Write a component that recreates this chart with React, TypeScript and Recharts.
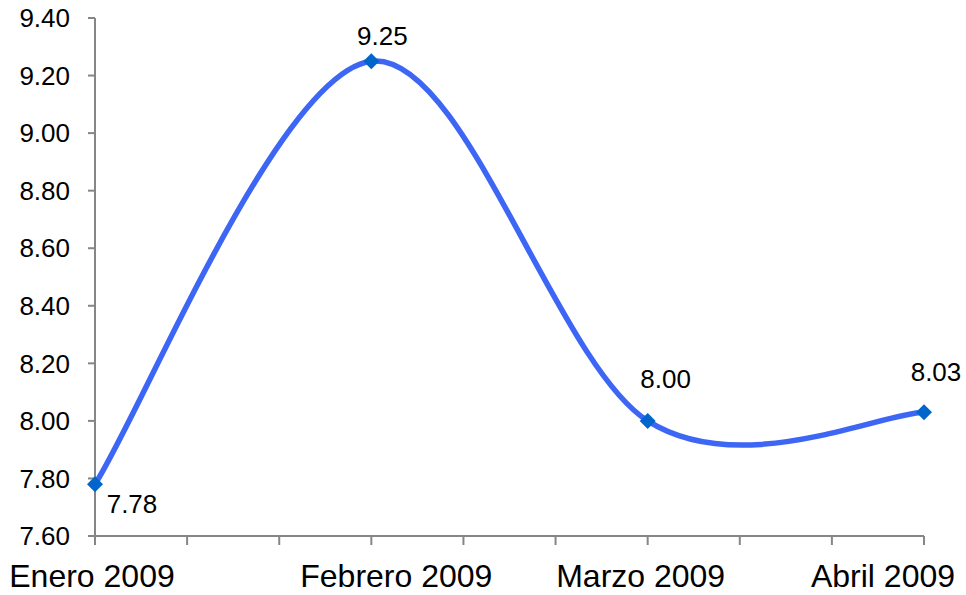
import React from 'react';
import { LineChart, Line, XAxis, YAxis, LabelList } from 'recharts';

const months = ['Enero 2009', 'Febrero 2009', 'Marzo 2009', 'Abril 2009'];
const rates = [7.78, 9.25, 8.0, 8.03];
const yTicks = [7.6, 7.8, 8.0, 8.2, 8.4, 8.6, 8.8, 9.0, 9.2, 9.4];
const xTicks = [0, 1, 2, 3, 4, 5, 6, 7, 8, 9];

// each month sits on every 3rd minor tick
const data = months.map((m, i) => ({ pos: i * 3, month: m, value: rates[i] }));

const labelShift = [
  [37, 20],
  [11, -25],
  [18, -42],
  [12, -40],
];
const tickShift = [-3, 25, -7, -41];

const font = '"Liberation Sans", Arial, sans-serif';

// Excel style smoothing (cardinal spline, 1/6 tension)
const excelSmooth = (context: any) => {
  let pts: number[][] = [];
  return {
    areaStart() {},
    areaEnd() {},
    lineStart() {
      pts = [];
    },
    point(x: number, y: number) {
      pts.push([+x, +y]);
    },
    lineEnd() {
      const n = pts.length;
      if (!n) return;
      context.moveTo(pts[0][0], pts[0][1]);
      for (let i = 0; i < n - 1; i++) {
        const p0 = pts[Math.max(i - 1, 0)];
        const p1 = pts[i];
        const p2 = pts[i + 1];
        const p3 = pts[Math.min(i + 2, n - 1)];
        context.bezierCurveTo(
          p1[0] + (p2[0] - p0[0]) / 6,
          p1[1] + (p2[1] - p0[1]) / 6,
          p2[0] - (p3[0] - p1[0]) / 6,
          p2[1] - (p3[1] - p1[1]) / 6,
          p2[0],
          p2[1]
        );
      }
    },
  };
};

const Diamond = (props: any) => {
  const { cx, cy } = props;
  if (cx == null || cy == null) return null;
  const r = 8;
  return (
    <polygon
      points={`${cx},${cy - r} ${cx + r},${cy} ${cx},${cy + r} ${cx - r},${cy}`}
      fill="#0066CC"
    />
  );
};

const MonthTick = (props: any) => {
  const { x, y, payload } = props;
  const v = payload.value;
  if (v % 3 !== 0) return null;
  const i = v / 3;
  return (
    <text
      x={x + tickShift[i]}
      y={y}
      dy="0.71em"
      textAnchor="middle"
      fontFamily={font}
      fontSize={32}
      fill="#000"
    >
      {months[i]}
    </text>
  );
};

const ValueLabel = (props: any) => {
  const { x, y, value, index } = props;
  const [dx, dy] = labelShift[index];
  return (
    <text
      x={x + dx}
      y={y + dy}
      dominantBaseline="central"
      textAnchor="middle"
      fontFamily={font}
      fontSize={26}
      fill="#000"
    >
      {Number(value).toFixed(2)}
    </text>
  );
};

const App = () => {
  return (
    <div style={{ width: 966, height: 595, background: '#fff' }}>
      <style>{'body{margin:0}'}</style>
      <LineChart
        width={966}
        height={595}
        data={data}
        margin={{ top: 18, right: 42, bottom: 0, left: 0 }}
      >
        <XAxis
          type="number"
          dataKey="pos"
          domain={[0, 9]}
          ticks={xTicks}
          interval={0}
          height={59}
          tickSize={9}
          tickMargin={19}
          tick={<MonthTick />}
          stroke="#868686"
          strokeWidth={2}
        />
        <YAxis
          domain={[7.6, 9.4]}
          ticks={yTicks}
          interval={0}
          width={95}
          tickSize={7}
          tickMargin={18}
          tickFormatter={(v: number) => v.toFixed(2)}
          tick={{ fill: '#000', fontSize: 26, fontFamily: font }}
          stroke="#868686"
          strokeWidth={2}
        />
        <Line
          dataKey="value"
          type={excelSmooth as any}
          stroke="#3D66F5"
          strokeWidth={5.5}
          dot={<Diamond />}
          activeDot={false}
          isAnimationActive={false}
        >
          <LabelList dataKey="value" content={<ValueLabel />} />
        </Line>
      </LineChart>
    </div>
  );
};

export default App;
